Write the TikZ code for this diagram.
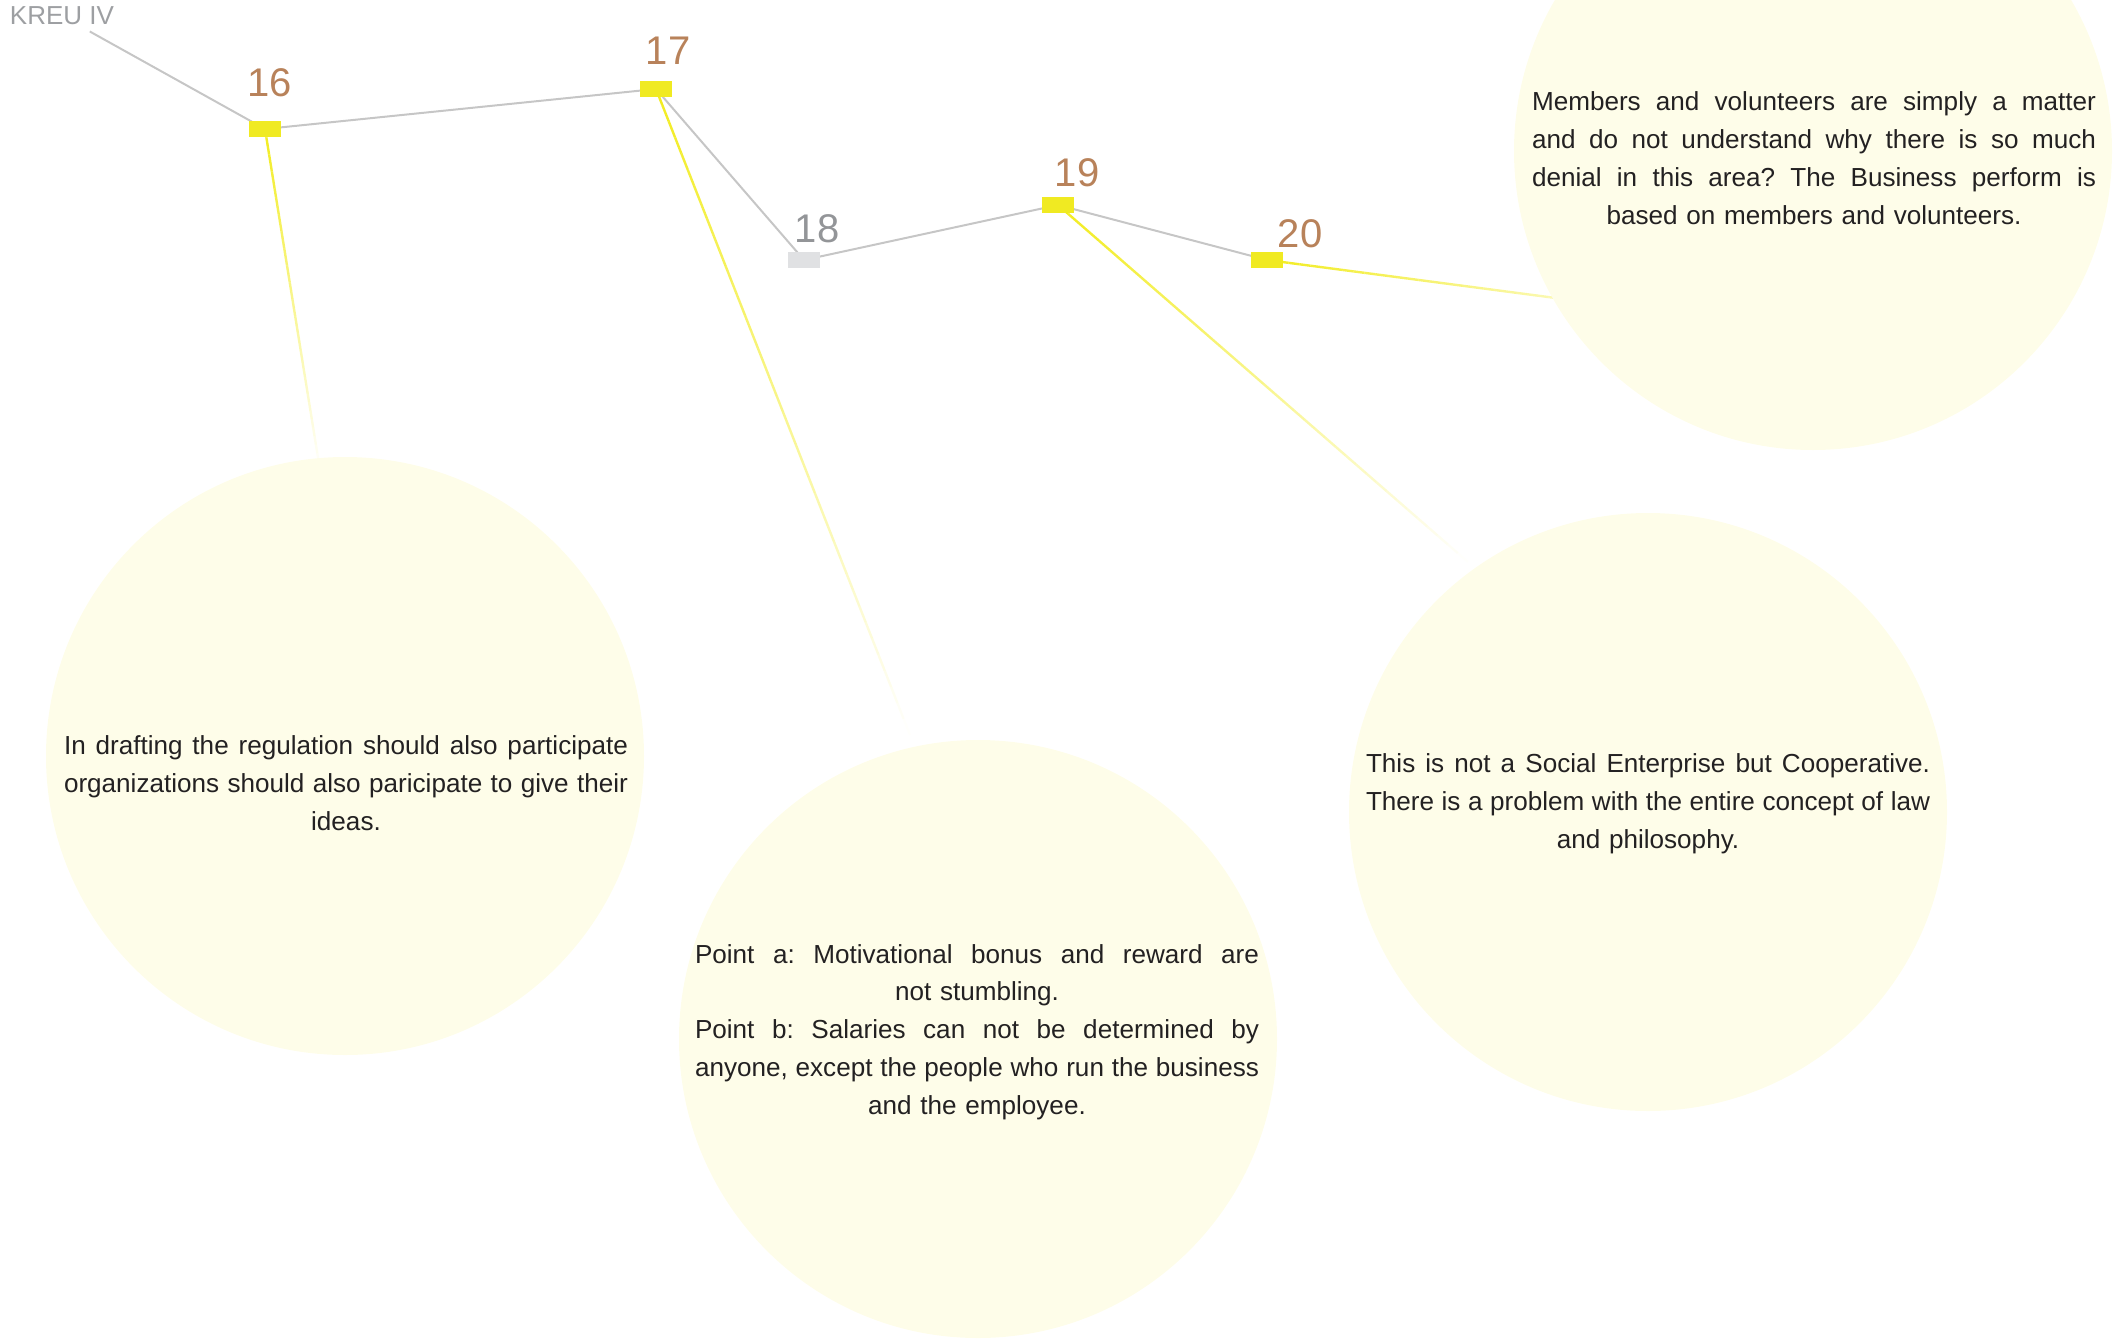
\documentclass[tikz,border=0pt]{standalone}
\usepackage{fontspec}
\setmainfont{Liberation Sans}
\usetikzlibrary{calc}
\pgfdeclarelayer{bg}
\pgfsetlayers{bg,main}
\definecolor{bubble}{RGB}{254,253,233}
\definecolor{txtdark}{RGB}{35,33,34}
\definecolor{numbrown}{RGB}{184,130,90}
\definecolor{numgray}{RGB}{147,149,152}
\definecolor{kreugray}{RGB}{157,159,162}
\definecolor{mkyellow}{RGB}{240,234,34}
\definecolor{mkgray}{RGB}{224,225,227}
\definecolor{lngray}{RGB}{198,198,198}
\definecolor{lnyellow}{RGB}{242,236,30}
\newcommand{\jl}[1]{{\spaceskip=0.278em plus 1em minus 0.1em\xspaceskip=\spaceskip\makebox[282pt][s]{#1}}}
\begin{document}
\begin{tikzpicture}[x=0.5pt,y=-0.5pt,
  bubble/.style={circle,fill=bubble,draw=none,minimum size=299pt,inner sep=0pt},
  bubbletext/.style={font=\fontsize{13.05pt}{18.9pt}\selectfont\frenchspacing,text=txtdark,align=center,text width=282pt,inner sep=0pt},
  marker/.style={rectangle,fill=mkyellow,minimum width=16pt,minimum height=8pt,inner sep=0pt},
  markergray/.style={marker,fill=mkgray},
  numlabel/.style={font=\fontsize{20pt}{24pt}\selectfont,text=numbrown,inner sep=0pt},
  grayline/.style={draw=lngray,line width=1pt},
  yline/.style={draw=lnyellow,line width=1.2pt}]
\useasboundingbox (0,0) rectangle (2116,1339);
\clip (0,0) rectangle (2116,1339);

% bubbles
\node[bubble] (c1) at (345,756) {};
\node[bubble] (c2) at (978,1039) {};
\node[bubble] (c3) at (1813,151) {};
\node[bubble] (c4) at (1648,812) {};

% bubble texts
\node[bubbletext] (t1) at (346,783) {\jl{In drafting the regulation should also participate}\\
\jl{organizations should also paricipate to give their}\\
ideas.};
\node[bubbletext] (t2) at (977,1032) {\jl{Point a: Motivational bonus and reward are}\\
not stumbling.\\
\jl{Point b: Salaries can not be determined by}\\
\jl{anyone, except the people who run the business}\\
and the employee.};
\node[bubbletext] (t3) at (1814,158) {\jl{Members and volunteers are simply a matter}\\
\jl{and do not understand why there is so much}\\
\jl{denial in this area? The Business perform is}\\
based on members and volunteers.};
\node[bubbletext] (t4) at (1648,804) {\jl{This is not a Social Enterprise but Cooperative.}\\
\jl{There is a problem with the entire concept of law}\\
and philosophy.};

% title
\node[font=\fontsize{13pt}{15pt}\selectfont,text=kreugray,inner sep=3pt] (kreu) at (62,16) {KREU IV};

% markers
\node[marker] (m16) at (265,129) {};
\node[marker] (m17) at (656,89) {};
\node[markergray] (m18) at (804,260) {};
\node[marker] (m19) at (1058,205) {};
\node[marker] (m20) at (1267,260) {};

% number labels
\node[numlabel] (n16) at (270,83) {16};
\node[numlabel] (n17) at (668,51) {17};
\node[numlabel,text=numgray] (n18) at (817,229) {18};
\node[numlabel] (n19) at (1077,173) {19};
\node[numlabel] (n20) at (1300,234) {20};

% fade ends of the connectors
\coordinate (e16) at (320,470);
\coordinate (e17) at (910,735);
\coordinate (e19) at (1468,562);
\coordinate (e20) at (1700,317);

\begin{pgfonlayer}{bg}
\draw[grayline] (kreu) -- (m16.center) -- (m17.center) -- (m18.center) -- (m19.center) -- (m20.center);
\foreach \a/\b in {m16/e16,m17/e17,m19/e19,m20/e20}{
  \foreach \i in {0,...,39}{
    \pgfmathsetmacro\ta{\i/40}
    \pgfmathsetmacro\tb{(\i+1)/40}
    \pgfmathsetmacro\op{1-(\i+0.5)/40}
    \draw[yline,draw opacity=\op] ($(\a.center)!\ta!(\b)$) -- ($(\a.center)!\tb!(\b)$);
  }
}
\end{pgfonlayer}
\end{tikzpicture}
\end{document}
